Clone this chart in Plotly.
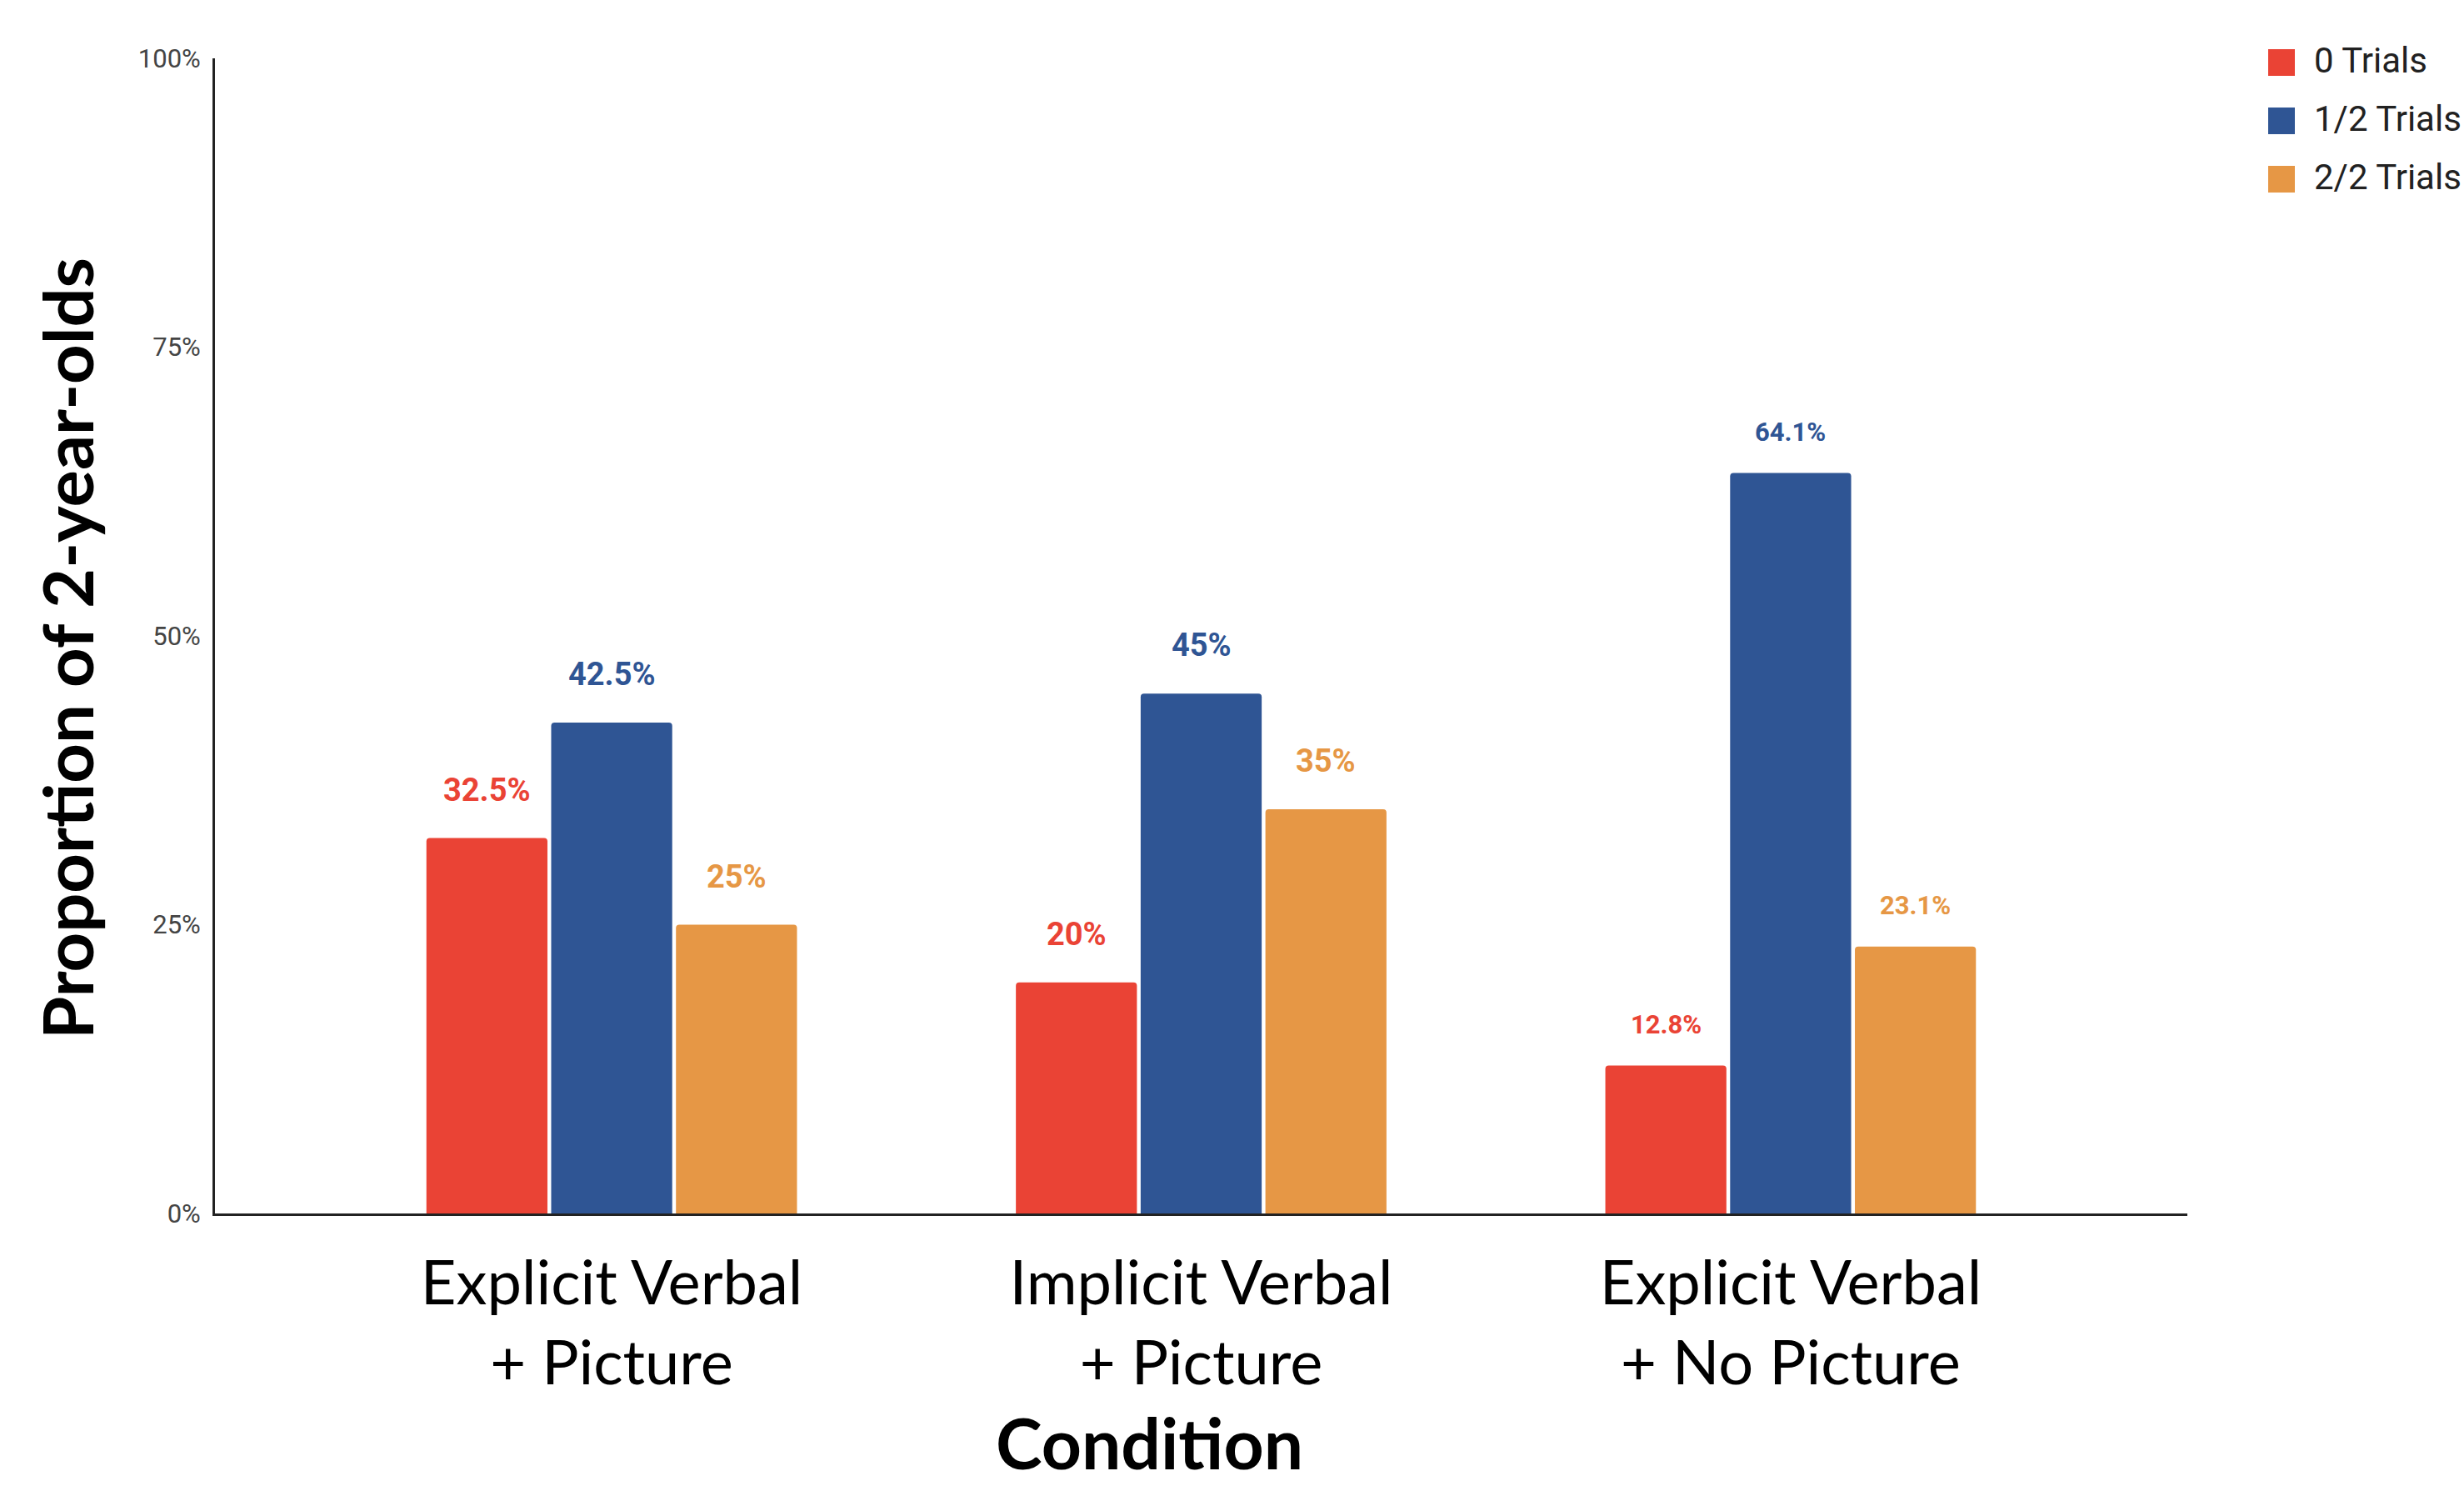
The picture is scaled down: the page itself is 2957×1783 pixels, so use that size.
import plotly.graph_objects as go

# ---- data ----
conditions = ["Explicit Verbal<br>+ Picture", "Implicit Verbal<br>+ Picture", "Explicit Verbal<br>+ No Picture"]
series_names = ["0 Trials", "1/2 Trials", "2/2 Trials"]
zero_trials = [0.325, 0.20, 0.128]
half_trials = [0.425, 0.45, 0.641]
full_trials = [0.25, 0.35, 0.231]
y_tick_vals = [0, 0.25, 0.5, 0.75, 1.0]
y_tick_text = ["0%", "25%", "50%", "75%", "100%"]
x_title = "Condition"
y_title = "Proportion of 2-year-olds"

# ---- style ----
colors = ["#EA4335", "#2F5594", "#E69745"]
W, H = 2957, 1783
L, R, T, B = 258, 332, 70, 327
BARGAP = 0.365
label_sizes = [38, 38, 31]      # per category (third group smaller in reference)
label_shift = [58, 58, 49]

series_values = [zero_trials, half_trials, full_trials]

fig = go.Figure()
for name, vals, col in zip(series_names, series_values, colors):
    fig.add_trace(go.Bar(
        x=conditions, y=vals, name=name,
        marker=dict(color=col, line=dict(width=0), cornerradius=4),
        showlegend=False,
    ))

# value labels above bars
annotations = []
slot = (1 - BARGAP) / len(series_names)
for k, (vals, col) in enumerate(zip(series_values, colors)):
    for i, v in enumerate(vals):
        annotations.append(dict(
            x=i + (k - (len(series_names) - 1) / 2) * slot, y=v,
            xref="x", yref="y", text=f"{v*100:g}%", showarrow=False,
            yshift=label_shift[i], yanchor="middle", xanchor="center",
            font=dict(family="Roboto", size=label_sizes[i], color=col, weight="bold"),
        ))

pw, ph = W - L - R, H - T - B
def px_x(p):
    return (p - L) / pw
def px_y(p):
    return (H - B - p) / ph

# custom legend (large swatches)
shapes = []
for j, (name, col) in enumerate(zip(series_names, colors)):
    cy = 75 + 70 * j
    shapes.append(dict(type="rect", xref="paper", yref="paper",
                       x0=px_x(2722), x1=px_x(2754), y0=px_y(cy + 16), y1=px_y(cy - 16),
                       fillcolor=col, line=dict(width=0), layer="above"))
    annotations.append(dict(x=px_x(2775), y=px_y(cy - 2), xref="paper", yref="paper",
                            text=name, showarrow=False, xanchor="left", yanchor="middle",
                            font=dict(family="Roboto", size=42, color="#212121")))

# axis titles
annotations.append(dict(x=px_x(1379), y=px_y(1782), xref="paper", yref="paper",
                        text=x_title, showarrow=False, xanchor="center", yanchor="bottom",
                        borderpad=0,
                        font=dict(family="Lato", size=84, color="black", weight="bold")))
annotations.append(dict(x=px_x(80), y=px_y(778), xref="paper", yref="paper",
                        text=y_title, showarrow=False, textangle=-90,
                        xanchor="center", yanchor="middle",
                        font=dict(family="Lato", size=83, color="black", weight="bold")))

fig.update_layout(
    width=W, height=H,
    margin=dict(l=L, r=R, t=T, b=B, pad=0),
    paper_bgcolor="white", plot_bgcolor="white",
    barmode="group", bargap=BARGAP, bargroupgap=0.03,
    showlegend=False,
    annotations=annotations, shapes=shapes,
    xaxis=dict(
        range=[-0.673, 2.673], showgrid=False, zeroline=False,
        showline=True, linecolor="#222", linewidth=3,
        ticks="", ticklabelstandoff=17, automargin=False,
        tickfont=dict(family="Lato", size=74, color="black"),
    ),
    yaxis=dict(
        range=[0, 1], showgrid=False, zeroline=False,
        showline=True, linecolor="#222", linewidth=3,
        tickvals=y_tick_vals, ticktext=y_tick_text,
        ticks="", ticklabelstandoff=8, automargin=False,
        tickfont=dict(family="Roboto", size=31, color="#444"),
    ),
)

fig.write_html("out.html")
